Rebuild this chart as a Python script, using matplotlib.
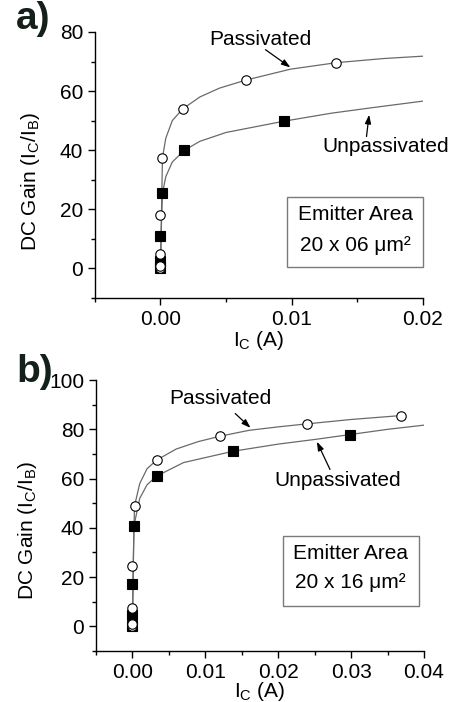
import numpy as np
import matplotlib
matplotlib.use("Agg")
import matplotlib.pyplot as plt
from matplotlib.patches import Rectangle
from matplotlib.ticker import MultipleLocator, FormatStrFormatter

plt.rcParams['font.family'] = ['Liberation Sans', 'DejaVu Sans']
plt.rcParams['mathtext.fontset'] = 'custom'
plt.rcParams['mathtext.rm'] = 'Liberation Sans'
plt.rcParams['mathtext.it'] = 'Liberation Sans:italic'
plt.rcParams['font.size'] = 15

FS = 15

# panel a) 20 x 06 um2, measured points
a_pass_x = [0, 0, 0, 0, 0.00015, 0.0017, 0.0065, 0.0134]
a_pass_y = [0.3, 0.8, 5, 18, 37.4, 54, 63.7, 69.6]
a_unp_x = [0, 0, 0, 0.00015, 0.0018, 0.0094]
a_unp_y = [0, 2.5, 10.9, 25.4, 39.9, 49.8]
# fitted curves
a_pass_fit_x = [0, 0.00005, 0.0001, 0.00015, 0.0004, 0.0009, 0.0017, 0.003, 0.0045, 0.0065, 0.0099, 0.0134, 0.017, 0.02]
a_pass_fit_y = [0, 12, 25, 37.4, 44, 50, 54, 58, 61, 63.7, 67.4, 69.6, 71, 71.8]
a_unp_fit_x = [0, 0.00005, 0.00015, 0.0004, 0.0009, 0.0018, 0.003, 0.005, 0.0094, 0.013, 0.016, 0.02]
a_unp_fit_y = [0, 12, 25.4, 31, 36, 39.9, 43, 46, 49.8, 52.5, 54.3, 56.6]

# panel b) 20 x 16 um2
b_pass_x = [0, 0, 0, 0, 0.00028, 0.0033, 0.012, 0.0239, 0.0369]
b_pass_y = [0.2, 1.1, 7.6, 24.5, 48.9, 67.5, 77.2, 82.2, 85.6]
b_unp_x = [0, 0, 0, 0.0002, 0.0033, 0.0138, 0.0299]
b_unp_y = [0, 4.5, 17.3, 40.8, 61, 71.1, 77.9]
b_pass_fit_x = [0, 0.0001, 0.00028, 0.001, 0.002, 0.0033, 0.006, 0.009, 0.012, 0.016, 0.02, 0.0239, 0.03, 0.0369]
b_pass_fit_y = [0, 25, 48.9, 58, 64, 67.5, 72, 75, 77.2, 79.6, 81, 82.2, 84, 85.6]
b_unp_fit_x = [0, 0.0001, 0.0002, 0.001, 0.002, 0.0033, 0.007, 0.0138, 0.02, 0.0253, 0.0299, 0.035, 0.04]
b_unp_fit_y = [0, 20, 40.8, 52, 57.5, 61, 66.5, 71.1, 74, 76, 77.9, 80, 81.7]

fig = plt.figure(figsize=(4.54, 7.02), dpi=100)
ax1 = fig.add_axes([0.209, 0.5755, 0.7225, 0.379])
ax2 = fig.add_axes([0.2115, 0.0726, 0.7225, 0.386])

curve_col = '#6a6a6a'


def draw_panel(ax, px, py, ux, uy, pfx, pfy, ufx, ufy):
    ax.plot(pfx, pfy, color=curve_col, lw=0.9, zorder=1)
    ax.plot(ufx, ufy, color=curve_col, lw=0.9, zorder=1)
    ax.plot(ux, uy, 's', ms=6.5, mfc='black', mec='black', mew=0.8, ls='none', zorder=3)
    ax.plot(px, py, 'o', ms=6.8, mfc='white', mec='black', mew=0.8, ls='none', zorder=4)
    for s in ['top', 'right']:
        ax.spines[s].set_visible(False)
    for s in ['left', 'bottom']:
        ax.spines[s].set_linewidth(1.0)
    ax.tick_params(which='major', direction='out', length=5, width=1, labelsize=FS)
    ax.tick_params(which='minor', direction='out', length=2.8, width=1)
    ax.xaxis.set_minor_locator(MultipleLocator(0.005))
    ax.yaxis.set_minor_locator(MultipleLocator(10))
    ax.xaxis.set_major_formatter(FormatStrFormatter('%.2f'))
    ax.set_ylabel('DC Gain (I$_\\mathrm{C}$/I$_\\mathrm{B}$)', fontsize=FS)


def emitter_box(ax, x0, y0, x1, y1, xc, yl1, yl2, txt):
    ax.add_patch(Rectangle((x0, y0), x1 - x0, y1 - y0, transform=ax.transAxes,
                           fill=False, ec='#7a7a7a', lw=1.0, clip_on=False))
    ax.text(xc, yl1, 'Emitter Area', transform=ax.transAxes, ha='center', va='center', fontsize=FS)
    ax.text(xc, yl2, txt, transform=ax.transAxes, ha='center', va='center', fontsize=FS)


arrow = dict(arrowstyle='-|>,head_length=0.35,head_width=0.12', color='black', lw=0.9,
             shrinkA=0, shrinkB=0)

# ---- a)
draw_panel(ax1, a_pass_x, a_pass_y, a_unp_x, a_unp_y,
           a_pass_fit_x, a_pass_fit_y, a_unp_fit_x, a_unp_fit_y)
ax1.set_xlim(-0.005, 0.02)
ax1.set_ylim(-10, 80)
ax1.xaxis.set_major_locator(MultipleLocator(0.01))
ax1.yaxis.set_major_locator(MultipleLocator(20))
ax1.set_xlabel('I$_\\mathrm{C}$ (A)', fontsize=FS, labelpad=0)
ax1.yaxis.set_label_coords(-0.16, 0.44)
ax1.text(0.0076, 77.4, 'Passivated', ha='center', va='center', fontsize=FS)
ax1.annotate('', xy=(0.0099, 68.0), xytext=(0.0080, 74.0), arrowprops=arrow)
ax1.text(0.0172, 41.1, 'Unpassivated', ha='center', va='center', fontsize=FS, clip_on=False)
ax1.annotate('', xy=(0.0159, 52.0), xytext=(0.0157, 44.6), arrowprops=arrow)
emitter_box(ax1, 0.585, 0.1165, 1.0, 0.38, 0.793, 0.312, 0.199, '20 x 06 \u03bcm\u00b2')

# ---- b)
draw_panel(ax2, b_pass_x, b_pass_y, b_unp_x, b_unp_y,
           b_pass_fit_x, b_pass_fit_y, b_unp_fit_x, b_unp_fit_y)
ax2.set_xlim(-0.005, 0.04)
ax2.set_ylim(-10, 100)
ax2.xaxis.set_major_locator(MultipleLocator(0.01))
ax2.yaxis.set_major_locator(MultipleLocator(20))
ax2.set_xlabel('I$_\\mathrm{C}$ (A)', fontsize=FS, labelpad=-1.5)
ax2.yaxis.set_label_coords(-0.175, 0.446)
ax2.text(0.0120, 92.5, 'Passivated', ha='center', va='center', fontsize=FS)
ax2.annotate('', xy=(0.0162, 80.6), xytext=(0.0141, 86.4), arrowprops=arrow)
ax2.text(0.0282, 59.3, 'Unpassivated', ha='center', va='center', fontsize=FS)
ax2.annotate('', xy=(0.0253, 75.0), xytext=(0.0271, 63.7), arrowprops=arrow)
emitter_box(ax2, 0.570, 0.166, 0.985, 0.425, 0.776, 0.36, 0.253, '20 x 16 \u03bcm\u00b2')

fig.text(16 / 454, 1 - 29 / 702, 'a)', fontsize=28, fontweight='bold', color='#14201a',
         ha='left', va='baseline')
fig.text(16 / 454, 1 - 382 / 702, 'b)', fontsize=28, fontweight='bold', color='#14201a',
         ha='left', va='baseline')

fig.savefig('out.png', dpi=100)
